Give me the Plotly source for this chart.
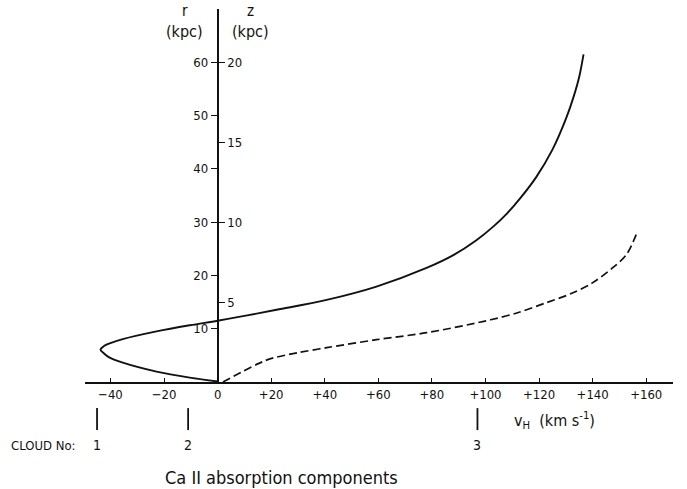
import plotly.graph_objects as go

# ---- data ----
solid_v = [0, -10.4, -22.8, -35.4, -40.3, -42.4, -43.7, -42.4, -40.3, -35.4, -22.8,
           -10.4, 0, 10, 22, 40.7, 59.3, 78, 88, 96.6, 103, 108, 113, 119, 125,
           130.2, 133, 135, 136.6]
solid_r = [0.1, 0.82, 1.95, 3.63, 4.57, 5.35, 6.07, 6.75, 7.25, 8.05, 9.5,
           10.65, 11.5, 12.4, 13.55, 15.4, 17.9, 21.4, 23.8, 26.6, 29.2, 31.6, 34.5,
           38.5, 43.6, 49.6, 53.7, 57.3, 61.5]

dashed_v = [2, 9.3, 15, 18, 21, 30, 40.7, 59.3, 78, 100.4, 112, 122.8, 132,
            139.9, 147.4, 152.6, 156.7]
dashed_r = [0.0, 1.95, 3.4, 4.05, 4.55, 5.5, 6.44, 7.94, 9.25, 11.5, 13.0, 14.9,
            16.6, 18.6, 21.4, 23.9, 28.2]

x_ticks = [-40, -20, 0, 20, 40, 60, 80, 100, 120, 140, 160]
x_ticktext = ["\u221240", "\u221220", "0", "+20", "+40", "+60", "+80", "+100",
              "+120", "+140", "+160"]
r_ticks = [10, 20, 30, 40, 50, 60]
z_ticks = [5, 10, 15, 20]

cloud_v = [-45, -11, 97]
cloud_labels = ["1", "2", "3"]

FONT = "DejaVu Sans Condensed, Liberation Sans Narrow, DejaVu Sans, sans-serif"
INK = "#111111"

x_range = [-49.5, 170]
r_range = [0, 70]
axis_pos = (0 - x_range[0]) / (x_range[1] - x_range[0])

fig = go.Figure()
fig.add_trace(go.Scatter(x=solid_v, y=solid_r, mode="lines",
                         line=dict(color=INK, width=1.9, shape="spline", smoothing=1.0),
                         showlegend=False, hoverinfo="skip"))
fig.add_trace(go.Scatter(x=dashed_v, y=dashed_r, mode="lines",
                         line=dict(color=INK, width=1.7, dash="8px,4px",
                                   shape="spline", smoothing=0.9),
                         showlegend=False, hoverinfo="skip"))
# empty trace so the z axis is drawn
fig.add_trace(go.Scatter(x=[None], y=[None], yaxis="y2", showlegend=False,
                         hoverinfo="skip"))

for v in cloud_v:
    fig.add_shape(type="line", xref="x", yref="paper", x0=v, x1=v,
                  y0=-0.070, y1=-0.129, line=dict(color=INK, width=1.8))


def note(x, y, text, size=14, xref="paper", xanchor="center"):
    fig.add_annotation(x=x, y=y, xref=xref, yref="paper", text=text,
                       showarrow=False, xanchor=xanchor, yanchor="middle",
                       font=dict(family=FONT, size=size, color=INK))


for v, lab in zip(cloud_v, cloud_labels):
    note(v, -0.169, lab, size=14, xref="x")

note(-0.071, -0.169, "CLOUD No:", size=13)
note(0.726, -0.102, "v<sub>H</sub>  (km s<sup>-1</sup>)", size=16, xanchor="left")
note(0.335, -0.257, "Ca II absorption components", size=18)
note(0.170, 0.994, "r", size=15)
note(0.170, 0.941, "(kpc)", size=16)
note(0.282, 0.994, "z", size=15)
note(0.282, 0.941, "(kpc)", size=16)

tick_font = dict(family=FONT, size=13, color=INK)
fig.update_layout(
    width=687, height=489,
    margin=dict(l=85, r=14, t=9, b=107),
    paper_bgcolor="white", plot_bgcolor="white",
    xaxis=dict(range=x_range, domain=[0, 1], showgrid=False, zeroline=False,
               showline=True, linecolor=INK, linewidth=1.6,
               ticks="inside", ticklen=4, tickwidth=1.4, tickcolor=INK,
               tickvals=x_ticks, ticktext=x_ticktext, tickfont=tick_font),
    yaxis=dict(range=r_range, anchor="free", position=axis_pos, side="left",
               showgrid=False, zeroline=False, showline=True, linecolor=INK,
               linewidth=1.8, ticks="outside", ticklen=6, tickwidth=1.4,
               tickcolor=INK, tickvals=r_ticks, tickfont=tick_font),
    yaxis2=dict(range=[r_range[0] / 3, r_range[1] / 3], overlaying="y",
                anchor="free", position=axis_pos, side="right",
                showgrid=False, zeroline=False, showline=False,
                ticks="outside", ticklen=6, tickwidth=1.4, tickcolor=INK,
                tickvals=z_ticks, tickfont=tick_font),
)

fig.write_html("out.html")
